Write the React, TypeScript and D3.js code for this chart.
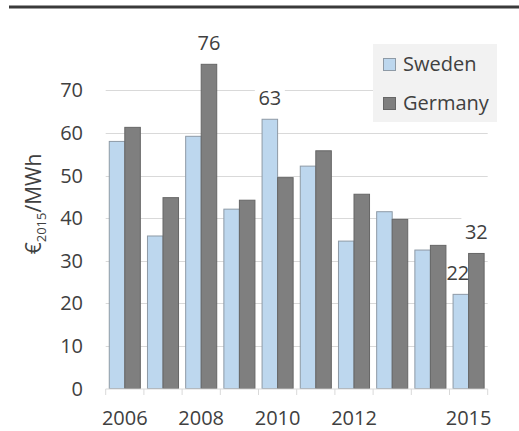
import React from "react";
import * as d3 from "d3";

const years = ["2006", "2007", "2008", "2009", "2010", "2011", "2012", "2013", "2014", "2015"];
const series = ["Sweden", "Germany"];
const sweden = [58, 35.8, 59.2, 42.1, 63.2, 52.2, 34.6, 41.5, 32.5, 22.1];
const germany = [61.3, 44.8, 76.1, 44.2, 49.5, 55.8, 45.6, 39.7, 33.6, 31.7];
const yTicks = [0, 10, 20, 30, 40, 50, 60, 70];
const xLabels = ["2006", "2008", "2010", "2012", "2015"];
const dataLabels = [
  { year: "2008", series: "Germany", text: "76", dx: 0 },
  { year: "2010", series: "Sweden", text: "63", dx: 0 },
  { year: "2015", series: "Sweden", text: "22", dx: -3 },
  { year: "2015", series: "Germany", text: "32", dx: 0 },
];

const colors: Record<string, string> = { Sweden: "#bdd7ee", Germany: "#7f7f7f" };
const strokes: Record<string, string> = { Sweden: "#8e9aa6", Germany: "#666666" };
const FONT = "'Open Sans', 'DejaVu Sans', sans-serif";
const TXT = "#404040";

export default function App() {
  const W = 519, H = 431;
  const x = d3.scaleBand<string>().domain(years).range([105.7, 487.7]).paddingInner(0).paddingOuter(0);
  const xs = d3.scaleBand<string>().domain(series).range([0, x.bandwidth()]).paddingInner(0).paddingOuter(0.23);
  const y = d3.scaleLinear().domain([0, 70]).range([388.5, 90.3]);
  const vals: Record<string, number[]> = { Sweden: sweden, Germany: germany };

  const labelPos = dataLabels.map((d) => {
    const i = years.indexOf(d.year);
    const v = vals[d.series][i];
    const cx = (x(d.year) as number) + (xs(d.series) as number) + xs.bandwidth() / 2 + d.dx;
    return { ...d, cx, by: y(v) - 14 };
  });

  return (
    <div style={{ position: "absolute", left: 0, top: 0 }}>
      <svg width={W} height={H} style={{ display: "block", background: "#fff" }}>
        <line x1={9} x2={W} y1={7} y2={7} stroke="#3a3a3a" strokeWidth={3} />
        {/* gridlines */}
        {yTicks.filter((t) => t > 0).map((t) => (
          <line key={t} x1={105.7} x2={487.7} y1={Math.round(y(t)) + 0.5} y2={Math.round(y(t)) + 0.5} stroke="#d9d9d9" strokeWidth={1} />
        ))}
        {/* label backgrounds */}
        {labelPos.map((d) => (
          <rect key={"bg" + d.year + d.series} x={d.cx - 15} y={d.by - 22} width={30} height={28} fill="#fff" />
        ))}
        {/* legend */}
        <rect x={373} y={44} width={124} height={78} fill="#f2f2f2" />
        {series.map((s, i) => (
          <g key={s}>
            <rect x={383.5} y={58.5 + i * 39} width={12} height={12} fill={colors[s]} stroke={strokes[s]} strokeWidth={1} />
            <text x={403} y={71 + i * 39} fontFamily={FONT} fontSize={20} fill={TXT}>{s}</text>
          </g>
        ))}
        {/* bars */}
        {years.map((yr, i) => (
          <g key={yr} transform={`translate(${x(yr)},0)`}>
            {series.map((s) => (
              <rect
                key={s}
                x={(xs(s) as number)}
                y={y(vals[s][i])}
                width={xs.bandwidth()}
                height={y(0) - y(vals[s][i])}
                fill={colors[s]}
                stroke={strokes[s]}
                strokeWidth={1}
              />
            ))}
          </g>
        ))}
        {/* x axis */}
        <line x1={105.7} x2={487.7} y1={389} y2={389} stroke="#d9d9d9" strokeWidth={1} />
        {years.concat(["end"]).map((yr, i) => {
          const xx = i < years.length ? (x(yr) as number) : 487.7;
          return <line key={yr} x1={xx} x2={xx} y1={389} y2={395} stroke="#d9d9d9" strokeWidth={1} />;
        })}
        {xLabels.map((l) => (
          <text key={l} x={(x(l) as number) + x.bandwidth() / 2} y={425} textAnchor="middle" fontFamily={FONT} fontSize={20} fill={TXT}>{l}</text>
        ))}
        {/* y ticks */}
        {yTicks.map((t) => (
          <text key={t} x={83} y={y(t) + 7} textAnchor="end" fontFamily={FONT} fontSize={20} fill={TXT}>{t}</text>
        ))}
        {/* y label */}
        <text transform="translate(41,204) rotate(-90)" textAnchor="middle" fontFamily={FONT} fontSize={21} fill={TXT}>
          €<tspan fontSize={13} dy={5}>2015</tspan><tspan dy={-5}>/MWh</tspan>
        </text>
        {/* data labels */}
        {labelPos.map((d) => (
          <text key={d.year + d.series} x={d.cx} y={d.by} textAnchor="middle" fontFamily={FONT} fontSize={20} fill={TXT}>{d.text}</text>
        ))}
      </svg>
    </div>
  );
}
